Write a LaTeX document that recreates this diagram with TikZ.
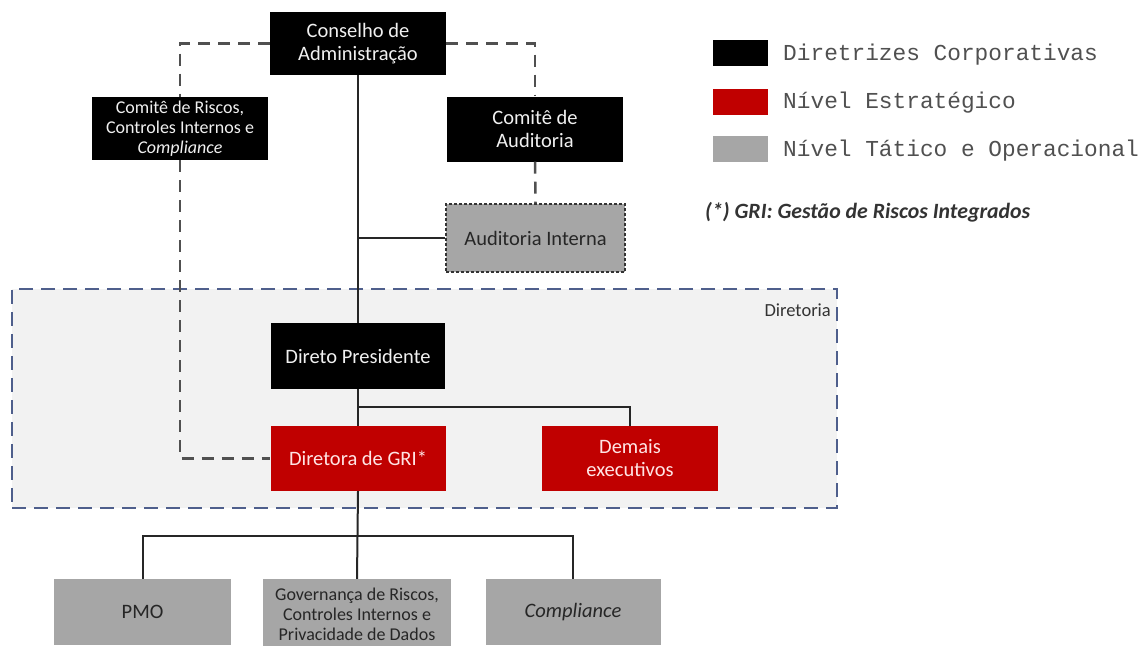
\documentclass[tikz,border=0pt]{standalone}
\usepackage{fontspec}
\setmainfont{Carlito}
\newfontfamily\legmono{Liberation Mono}
\definecolor{redbox}{HTML}{C00000}
\definecolor{graybox}{HTML}{A6A6A6}
\definecolor{dirfill}{HTML}{F2F2F2}
\definecolor{dirline}{HTML}{4F5F8C}
\definecolor{dashcol}{HTML}{505050}
\definecolor{legtext}{HTML}{505050}
\definecolor{notetext}{HTML}{333333}
\begin{document}
\begin{tikzpicture}[x=1pt,y=-1pt,
  box/.style={rectangle, inner sep=0pt, align=center, font=\fontsize{20.5}{23}\selectfont},
  blackbox/.style={box, fill=black, text=white!94!black},
  redb/.style={box, fill=redbox, text=white!90!red},
  grayb/.style={box, fill=graybox, text=black!85},
  smalltext/.style={font=\fontsize{18}{20}\selectfont},
  solidcon/.style={draw=black!85, line width=2pt},
  dashcon/.style={draw=dashcol, line width=2.5pt, dash pattern=on 12pt off 8pt},
  legsq/.style={rectangle, inner sep=0pt, minimum width=55pt, minimum height=26pt},
  legtxt/.style={anchor=base west, inner sep=0pt, text=legtext, font=\legmono\fontsize{22.8}{26}\selectfont},
]
\useasboundingbox (0,0) rectangle (1140,645);
\clip (0,0) rectangle (1140,645);
\fill[white] (0,0) rectangle (1140,645);

% Diretoria region
\node[draw=dirline, fill=dirfill, line width=2.5pt, dash pattern=on 14pt off 8pt,
      rectangle, inner sep=0pt, minimum width=825pt, minimum height=219pt] (dir) at (424.5,398.5) {};
\node[anchor=east, inner sep=0pt, text=notetext, font=\fontsize{18.5}{20}\selectfont] (dirlabel) at (831,310) {Diretoria};

% nodes
\node[blackbox, minimum width=176pt, minimum height=63pt] (cons) at (358,43.5) {Conselho de\\Administração};
\node[blackbox, smalltext, minimum width=176pt, minimum height=63pt] (crc) at (180,128.5) {Comitê de Riscos,\\Controles Internos e\\\textit{Compliance}};
\node[blackbox, minimum width=176pt, minimum height=65pt] (caud) at (535,129) {Comitê de\\Auditoria};
\node[grayb, draw=black!80, line width=1.8pt, dash pattern=on 3pt off 2pt, minimum width=179pt, minimum height=68pt] (aint) at (535.5,238) {Auditoria Interna};
\node[blackbox, minimum width=174pt, minimum height=66pt] (dp) at (358,356) {Direto Presidente};
\node[redb, minimum width=175pt, minimum height=65pt] (dgri) at (358,458.5) {Diretora de GRI*};
\node[redb, minimum width=176pt, minimum height=65pt] (dem) at (630,458.5) {Demais\\executivos};
\node[grayb, minimum width=177pt, minimum height=66pt] (pmo) at (142.5,612) {PMO};
\node[grayb, smalltext, minimum width=188pt, minimum height=70pt] (gov) at (357,614) {Governança de Riscos,\\Controles Internos e\\Privacidade de Dados};
\node[grayb, minimum width=175pt, minimum height=66pt] (comp) at (573,612) {\textit{Compliance}};

% coordinates for branches
\coordinate (b1) at (358,407);
\coordinate (b2) at (357,536);

% solid connectors
\draw[solidcon] (cons.south) -- (dp.north);
\draw[solidcon] (cons.south |- aint.west) -- (aint.west);
\draw[solidcon] (dp.south) -- (dgri.north);
\draw[solidcon] (b1) -| (dem.north);
\draw[solidcon] (dgri.south) -- (gov.north);
\draw[solidcon] (pmo.north) |- (b2) -| (comp.north);

% dashed connectors
\draw[dashcon] (cons.west) -| (crc.north);
\draw[dashcon] (crc.south) |- (dgri.west);
\draw[dashcon] (cons.east) -| (caud.north);
\draw[dashcon] (caud.south) -- (aint.north);

% legend
\node[legsq, fill=black] (leg1) at (740.5,53) {};
\node[legsq, fill=redbox] (leg2) at (740.5,101.5) {};
\node[legsq, fill=graybox] (leg3) at (740.5,149) {};
\node[legtxt] (legt1) at (783,60) {Diretrizes Corporativas};
\node[legtxt] (legt2) at (783,108.5) {Nível Estratégico};
\node[legtxt] (legt3) at (783,156) {Nível Tático e Operacional};

\node[anchor=west, inner sep=0pt, text=notetext, font=\bfseries\itshape\fontsize{21.8}{24}\selectfont] (note) at (705,212) {(*) GRI: Gestão de Riscos Integrados};
\end{tikzpicture}
\end{document}
